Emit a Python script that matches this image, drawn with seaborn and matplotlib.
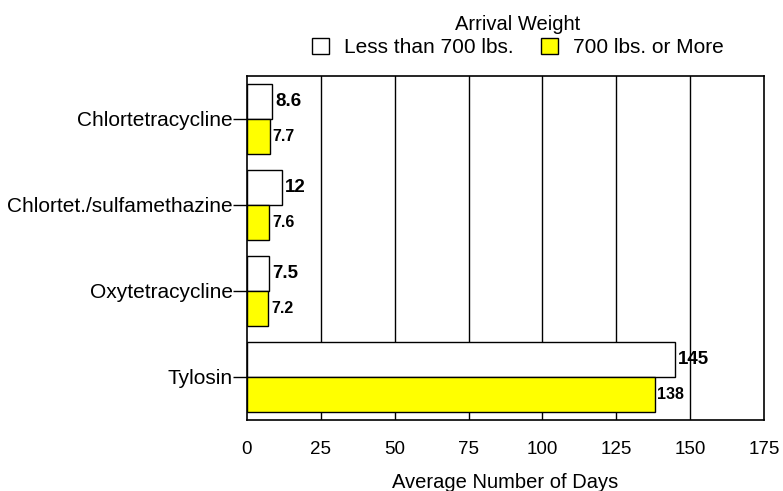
import matplotlib
matplotlib.use("Agg")
import matplotlib.pyplot as plt
from matplotlib.patches import Patch
import seaborn as sns
import pandas as pd

drugs = ["Chlortetracycline", "Chlortet./sulfamethazine", "Oxytetracycline", "Tylosin"]
light_days = [8.6, 12, 7.5, 145]
heavy_days = [7.7, 7.6, 7.2, 138]
light_labels = ["8.6", "12", "7.5", "145"]
heavy_labels = ["7.7", "7.6", "7.2", "138"]
groups = ["Less than 700 lbs.", "700 lbs. or More"]
x_ticks = [0, 25, 50, 75, 100, 125, 150, 175]

df = pd.DataFrame({
    "drug": drugs * 2,
    "days": light_days + heavy_days,
    "group": [groups[0]] * len(drugs) + [groups[1]] * len(drugs),
})

sns.set_theme(style="white")
plt.rcParams["font.family"] = ["Liberation Sans", "DejaVu Sans"]
plt.rcParams.update({"text.color": "black", "axes.labelcolor": "black",
                     "xtick.color": "black", "ytick.color": "black"})

fig = plt.figure(figsize=(7.83, 4.91), dpi=100)
ax = fig.add_axes([247 / 783, 71 / 491, 517 / 783, 344 / 491])

colors = {groups[0]: "#FFFFFF", groups[1]: "#FFFF00"}
sns.barplot(data=df, y="drug", x="days", hue="group", order=drugs,
            hue_order=groups, palette=colors, orient="h", width=0.82,
            edgecolor="black", linewidth=1.0, saturation=1, ax=ax,
            legend=False, zorder=3)

ax.set_xlim(0, 175)
ax.set_ylim(3.5, -0.5)
ax.set_xticks(x_ticks)
ax.set_xticklabels([str(t) for t in x_ticks], fontsize=13.5)
ax.tick_params(axis="x", length=0, pad=15)
ax.tick_params(axis="y", length=10, width=1, color="black", direction="out",
               left=True, labelsize=15, pad=0)
for t in x_ticks[1:-1]:
    ax.axvline(t, color="black", linewidth=1, zorder=2)
for sp in ax.spines.values():
    sp.set_color("black")
    sp.set_linewidth(1.2)
    sp.set_visible(True)
ax.set_ylabel("")
ax.set_xlabel("Average Number of Days", fontsize=14.5, labelpad=11)

# value labels beside each bar
for cont, labs, fs in zip(ax.containers, [light_labels, heavy_labels], [13.5, 11.5]):
    ax.bar_label(cont, labels=labs, padding=2, fontsize=fs,
                 fontweight="bold", color="black", zorder=4)

handles = [Patch(facecolor=colors[g], edgecolor="black", linewidth=1) for g in groups]
leg = fig.legend(handles, groups, loc="center", bbox_to_anchor=(518 / 783, 1 - 36 / 491),
                 ncol=2, frameon=False, fontsize=15, title="Arrival Weight",
                 title_fontsize=14.5, handlelength=0.8, handleheight=0.8,
                 handletextpad=0.75, columnspacing=1.3, borderpad=0.2,
                 labelspacing=0.2)

fig.savefig("out.png", dpi=100)
